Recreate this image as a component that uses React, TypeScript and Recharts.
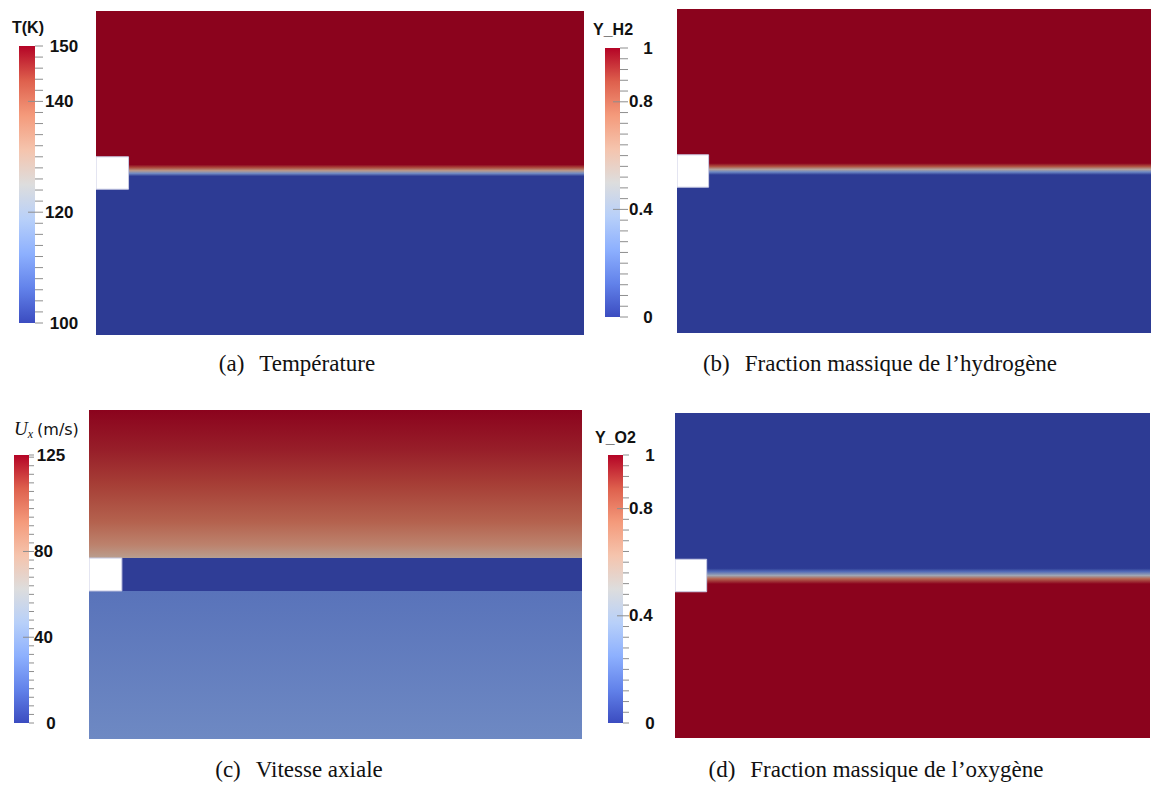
import React from 'react';
import { ComposedChart, XAxis, YAxis, ReferenceArea } from 'recharts';

// ---- geometry of the computational domain (arbitrary units) ----
const domainLength = 15;
const domainHeight = 10;
const splitterLength = 1;
const splitterBottom = 4.5;
const splitterTop = 5.5;

// ---- field profiles across the channel, read from top wall to bottom wall ----
// (a) temperature, K
const tempY = [10, 5.26, 5.16, 5.07, 4.99, 4.9, 0];
const tempK = [150, 150, 143, 130, 114, 100, 100];
// (b) hydrogen mass fraction
const h2Y = [10, 5.24, 5.14, 5.05, 4.97, 4.88, 0];
const h2Frac = [1, 1, 0.85, 0.55, 0.25, 0, 0];
// (c) axial velocity, m/s
const uxY = [10, 8.8, 7.75, 6.6, 5.9, 5.55, 5.5, 5.5, 4.5, 4.5, 0];
const uxMs = [125, 119, 112, 101, 88, 76, 70, 1, 1, 22, 32];
// (d) oxygen mass fraction
const o2Y = [10, 5.22, 5.12, 5.0, 4.9, 4.74, 0];
const o2Frac = [0, 0, 0.15, 0.45, 0.8, 1, 1];

// ---- colour bars ----
const tempRange = [100, 150];
const tempLabels = [150, 140, 120, 100];
const tempStep = 2;
const h2Range = [0, 1];
const h2Labels = [1, 0.8, 0.4, 0];
const fracStep = 0.04;
const uxRange = [0, 125];
const uxLabels = [125, 80, 40, 0];
const uxStep = 4;
const o2Range = [0, 1];
const o2Labels = [1, 0.8, 0.4, 0];

// cool to warm colour map (fraction, r, g, b)
const CMAP: number[][] = [
  [0, 59, 76, 192],
  [0.125, 98, 130, 234],
  [0.25, 141, 176, 254],
  [0.375, 184, 208, 249],
  [0.5, 221, 221, 221],
  [0.625, 245, 196, 173],
  [0.75, 244, 154, 123],
  [0.875, 222, 96, 77],
  [1, 180, 4, 38],
];
const FIELD_SHADE = 0.77;

function coolwarm(t: number, k = 1) {
  const f = Math.max(0, Math.min(1, t));
  for (let i = 1; i < CMAP.length; i++) {
    if (f <= CMAP[i][0]) {
      const a = CMAP[i - 1];
      const b = CMAP[i];
      const s = (f - a[0]) / (b[0] - a[0]);
      const c = [1, 2, 3].map((j) => Math.round((a[j] + (b[j] - a[j]) * s) * k));
      return `rgb(${c.join(',')})`;
    }
  }
  return 'rgb(180,4,38)';
}

const sans = '"Liberation Sans", Arial, sans-serif';
const serif = '"Liberation Serif", "Times New Roman", serif';

function Field({ id, left, top, width, height, ys, vals, range }: any) {
  const [lo, hi] = range;
  return (
    <div style={{ position: 'absolute', left, top }}>
      <ComposedChart width={width} height={height} margin={{ top: 0, right: 0, bottom: 0, left: 0 }}>
        <defs>
          <linearGradient id={id} x1="0" y1="0" x2="0" y2="1">
            {ys.map((y: number, i: number) => (
              <stop
                key={i}
                offset={(domainHeight - y) / domainHeight}
                stopColor={coolwarm((vals[i] - lo) / (hi - lo), FIELD_SHADE)}
              />
            ))}
          </linearGradient>
        </defs>
        <XAxis type="number" dataKey="x" domain={[0, domainLength]} hide allowDataOverflow />
        <YAxis type="number" dataKey="y" domain={[0, domainHeight]} hide allowDataOverflow />
        <ReferenceArea
          x1={0}
          x2={domainLength}
          y1={0}
          y2={domainHeight}
          fill={`url(#${id})`}
          fillOpacity={1}
          ifOverflow="visible"
        />
        <ReferenceArea
          x1={0}
          x2={splitterLength}
          y1={splitterBottom}
          y2={splitterTop}
          fill="#ffffff"
          fillOpacity={1}
          stroke="#c9cbe4"
          strokeWidth={1}
          ifOverflow="visible"
        />
      </ComposedChart>
    </div>
  );
}

function ColorBar({ id, left, top, barW, barH, range, labels, step, tickOut, majorIn, midGap, endCenter }: any) {
  const [lo, hi] = range;
  const ticks: number[] = [];
  for (let v = lo; v <= hi + 1e-9; v += step) ticks.push(Math.round(v * 1000) / 1000);
  if (ticks[ticks.length - 1] !== hi) ticks.push(hi);

  const renderTick = (props: any) => {
    const { x, y, payload } = props;
    const v = payload.value;
    const isEnd = v === lo || v === hi;
    const isMajor = labels.includes(v) && !isEnd;
    const textStyle = { fontFamily: sans, fontWeight: 700, fontSize: 17, fill: '#111' };
    return (
      <g>
        <line x1={isMajor ? x - majorIn : x} x2={x + tickOut} y1={y} y2={y} stroke="#8e8e8e" strokeWidth={1} />
        {isEnd && (
          <text x={x + endCenter} y={y} textAnchor="middle" dominantBaseline="central" style={textStyle}>
            {String(v)}
          </text>
        )}
        {isMajor && (
          <text x={x + midGap} y={y} textAnchor="start" dominantBaseline="central" style={textStyle}>
            {String(v)}
          </text>
        )}
      </g>
    );
  };

  return (
    <div style={{ position: 'absolute', left, top: top - 10 }}>
      <ComposedChart width={barW + 70} height={barH + 20} margin={{ top: 10, right: 0, bottom: 10, left: 0 }}>
        <defs>
          <linearGradient id={id} x1="0" y1="0" x2="0" y2="1">
            {[...CMAP].reverse().map((c, i) => (
              <stop key={i} offset={1 - c[0]} stopColor={coolwarm(c[0])} />
            ))}
          </linearGradient>
        </defs>
        <XAxis type="number" dataKey="x" domain={[0, 1]} hide allowDataOverflow />
        <YAxis
          type="number"
          dataKey="y"
          orientation="right"
          width={70}
          domain={[lo, hi]}
          ticks={ticks}
          interval={0}
          tick={renderTick}
          tickLine={false}
          axisLine={false}
          tickSize={0}
          tickMargin={0}
          allowDataOverflow
        />
        <ReferenceArea x1={0} x2={1} y1={lo} y2={hi} fill={`url(#${id})`} fillOpacity={1} ifOverflow="visible" />
      </ComposedChart>
    </div>
  );
}

function Caption({ cx, top, tag, text }: any) {
  return (
    <div
      style={{
        position: 'absolute',
        left: cx - 300,
        width: 600,
        top,
        textAlign: 'center',
        fontFamily: serif,
        fontSize: 23,
        lineHeight: '28px',
        color: '#111',
        whiteSpace: 'nowrap',
      }}
    >
      <span>{tag}</span>
      <span style={{ marginLeft: 15 }}>{text}</span>
    </div>
  );
}

const titleStyle: React.CSSProperties = {
  position: 'absolute',
  fontFamily: sans,
  fontWeight: 700,
  fontSize: 16,
  lineHeight: '16px',
  color: '#111',
  whiteSpace: 'nowrap',
};

export default function App() {
  return (
    <div style={{ position: 'absolute', left: 0, top: 0, width: 1158, height: 788, background: '#fff', overflow: 'hidden' }}>
      {/* (a) temperature */}
      <div style={{ ...titleStyle, left: 12, top: 20 }}>T(K)</div>
      <ColorBar id="cbT" left={19} top={46} barW={16} barH={277} range={tempRange} labels={tempLabels}
        step={tempStep} tickOut={8} majorIn={7} midGap={10} endCenter={29} />
      <Field id="fT" left={96} top={11} width={488} height={324} ys={tempY} vals={tempK} range={tempRange} />
      <Caption cx={297} top={350} tag="(a)" text="Température" />

      {/* (b) hydrogen */}
      <div style={{ ...titleStyle, left: 593, top: 22 }}>Y_H2</div>
      <ColorBar id="cbH2" left={605} top={48} barW={15} barH={269} range={h2Range} labels={h2Labels}
        step={fracStep} tickOut={8} majorIn={7} midGap={9} endCenter={28} />
      <Field id="fH2" left={677} top={9} width={474} height={324} ys={h2Y} vals={h2Frac} range={h2Range} />
      <Caption cx={880} top={350} tag="(b)" text="Fraction massique de l’hydrogène" />

      {/* (c) axial velocity */}
      <div style={{ position: 'absolute', left: 14, top: 419, whiteSpace: 'nowrap', color: '#111', lineHeight: '20px' }}>
        <span style={{ fontFamily: serif, fontStyle: 'italic', fontSize: 19 }}>
          U<span style={{ fontSize: 12, position: 'relative', top: 3 }}>x</span>
        </span>
        <span style={{ fontFamily: '"DejaVu Sans", sans-serif', fontSize: 16, marginLeft: 4 }}>(m/s)</span>
      </div>
      <ColorBar id="cbU" left={14} top={455} barW={15} barH={268} range={uxRange} labels={uxLabels}
        step={uxStep} tickOut={5} majorIn={6} midGap={5} endCenter={22} />
      <Field id="fU" left={89} top={410} width={493} height={329} ys={uxY} vals={uxMs} range={uxRange} />
      <Caption cx={299} top={756} tag="(c)" text="Vitesse axiale" />

      {/* (d) oxygen */}
      <div style={{ ...titleStyle, left: 595, top: 430 }}>Y_O2</div>
      <ColorBar id="cbO2" left={608} top={455} barW={15} barH={268} range={o2Range} labels={o2Labels}
        step={fracStep} tickOut={6} majorIn={6} midGap={6} endCenter={27} />
      <Field id="fO2" left={675} top={413} width={475} height={325} ys={o2Y} vals={o2Frac} range={o2Range} />
      <Caption cx={876} top={756} tag="(d)" text="Fraction massique de l’oxygène" />
    </div>
  );
}
